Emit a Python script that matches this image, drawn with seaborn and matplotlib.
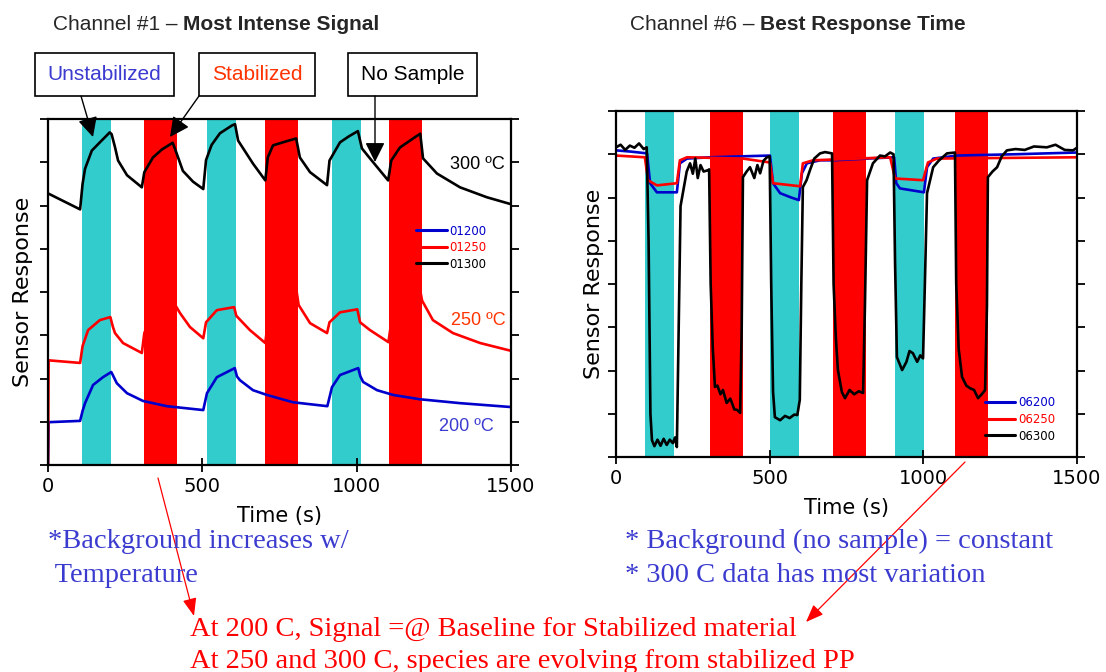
import numpy as np
import pandas as pd
import matplotlib
matplotlib.use("Agg")
import matplotlib.pyplot as plt
import seaborn as sns
from matplotlib.patches import Rectangle

# ---------------- data ----------------
# Channel #1 (left)
t_01200 = [0, 2, 104, 112, 120, 146, 178, 205, 212, 223, 256, 308, 385, 503, 515, 547, 605, 612, 622, 664,
           709, 794, 905, 920, 946, 1005, 1012, 1021, 1066, 1118, 1205, 1335, 1500]
v_01200 = [0.0, 0.99, 1.02, 1.25, 1.43, 1.85, 2.03, 2.15, 2.05, 1.89, 1.66, 1.48, 1.36, 1.27, 1.66, 2.03, 2.24, 2.05, 1.96, 1.73,
           1.62, 1.45, 1.36, 1.80, 2.08, 2.24, 2.05, 1.92, 1.73, 1.62, 1.52, 1.43, 1.34]

t_01250 = [0, 2, 104, 112, 130, 168, 202, 210, 217, 243, 304, 312, 340, 370, 405, 412, 428, 460, 503, 512, 547, 603, 610,
           654, 704, 712, 750, 804, 812, 849, 904, 912, 946, 1002, 1011, 1043, 1103, 1112, 1150, 1204, 1212, 1247,
           1312, 1400, 1500]
v_01250 = [0.0, 2.42, 2.36, 2.75, 3.12, 3.35, 3.42, 3.20, 3.05, 2.82, 2.59, 3.05, 3.55, 3.85, 4.00, 3.70, 3.51, 3.19, 2.93,
           3.30, 3.58, 3.65, 3.45, 3.12, 2.82, 3.30, 3.85, 4.08, 3.70, 3.28, 3.05, 3.30, 3.53, 3.60, 3.30, 3.12, 2.84,
           3.30, 3.80, 4.10, 3.80, 3.35, 3.05, 2.82, 2.64]

t_01300 = [0, 104, 112, 120, 142, 168, 200, 206, 217, 227, 256, 304, 312, 340, 370, 404, 412, 437, 470, 503, 512, 530,
           557, 596, 606, 616, 664, 704, 712, 729, 770, 804, 816, 849, 904, 912, 946, 975, 1004, 1017, 1043, 1102,
           1112, 1140, 1189, 1206, 1215, 1260, 1335, 1422, 1500]
v_01300 = [6.28, 5.91, 6.50, 6.85, 7.27, 7.46, 7.69, 7.65, 7.35, 7.04, 6.70, 6.42, 6.77, 7.11, 7.30, 7.45, 7.30, 6.80,
           6.55, 6.38, 7.05, 7.40, 7.67, 7.85, 7.88, 7.50, 6.97, 6.58, 7.11, 7.39, 7.48, 7.55, 7.11, 6.77, 6.47, 7.04,
           7.46, 7.60, 7.72, 7.32, 7.09, 6.58, 7.04, 7.34, 7.58, 7.66, 7.09, 6.74, 6.42, 6.19, 6.03]

# Channel #6 (right)
t_06200 = [0, 50, 101, 111, 133, 198, 208, 231, 306, 400, 501, 511, 534, 570, 595, 605, 621, 664, 706, 817, 905, 912,
           924, 1002, 1012, 1032, 1110, 1300, 1500]
v_06200 = [7.09, 7.06, 7.02, 6.33, 6.12, 6.12, 6.79, 6.90, 6.93, 6.95, 6.97, 6.33, 6.10, 6.00, 5.94, 6.56, 6.79, 6.86,
           6.86, 6.90, 6.93, 6.33, 6.21, 6.12, 6.70, 6.90, 6.97, 7.00, 7.04]

t_06250 = [0, 94, 104, 133, 198, 208, 231, 413, 501, 511, 599, 608, 641, 892, 908, 999, 1015, 1044, 1500]
v_06250 = [6.97, 6.93, 6.40, 6.28, 6.33, 6.86, 6.93, 6.90, 6.81, 6.33, 6.26, 6.79, 6.86, 6.93, 6.44, 6.40, 6.81, 6.90, 6.93]

t_06300 = [0, 15, 30, 45, 60, 75, 90, 100, 106, 112, 117, 125, 135, 145, 155, 165, 175, 185, 192, 198, 204, 210, 220,
           230, 241, 250, 258, 266, 275, 285, 299, 303, 308, 315, 322, 330, 340, 348, 360, 372, 385, 394, 404, 409,
           413, 425, 436, 450, 460, 469, 480, 491, 500, 505, 511, 517, 534, 550, 565, 580, 590, 598, 603, 608, 620,
           631, 645, 664, 680, 703, 708, 715, 722, 735, 745, 760, 775, 790, 804, 810, 817, 836, 859, 875, 892, 903,
           908, 914, 931, 945, 955, 966, 980, 990, 999, 1005, 1012, 1032, 1050, 1077, 1103, 1107, 1115, 1126, 1140,
           1152, 1165, 1178, 1190, 1201, 1207, 1210, 1225, 1240, 1255, 1272, 1300, 1330, 1360, 1402, 1430, 1460,
           1487, 1500]
v_06300 = [7.16, 7.22, 7.10, 7.20, 7.15, 7.25, 7.12, 7.16, 5.00, 1.00, 0.39, 0.25, 0.40, 0.26, 0.42, 0.28, 0.40, 0.32,
           0.45, 0.23, 3.00, 5.80, 6.20, 6.60, 6.79, 6.55, 6.90, 6.45, 6.75, 6.60, 6.63, 6.65, 4.00, 2.50, 1.62, 1.65,
           1.45, 1.55, 1.25, 1.35, 1.10, 1.09, 1.02, 3.00, 6.47, 6.60, 6.70, 6.45, 6.75, 6.56, 6.85, 6.93, 6.95, 4.00,
           1.50, 0.92, 0.85, 0.95, 0.90, 0.98, 0.97, 1.32, 4.00, 6.24, 6.40, 6.63, 6.90, 7.02, 7.05, 7.02, 4.00, 2.80,
           2.01, 1.50, 1.36, 1.55, 1.45, 1.52, 1.48, 3.50, 6.40, 6.79, 6.97, 6.95, 7.04, 7.00, 4.50, 2.31, 2.01, 2.20,
           2.45, 2.40, 2.20, 2.35, 2.28, 4.00, 6.10, 6.70, 6.85, 7.02, 7.04, 4.00, 2.50, 1.85, 1.65, 1.59, 1.55, 1.36,
           1.45, 1.55, 3.50, 6.47, 6.60, 6.70, 6.95, 7.09, 7.12, 7.10, 7.18, 7.16, 7.22, 7.10, 7.09, 7.15]

# exposure windows (s)
left_unstab = [(110, 204), (516, 609), (921, 1014)]
left_stab = [(311, 417), (703, 809), (1105, 1211)]
right_unstab = [(94, 189), (501, 595), (908, 1002)]
right_stab = [(306, 412), (706, 813), (1103, 1210)]

x_ticks = [0, 500, 1000, 1500]

CYAN = "#33CCCC"
RED = "#FF0000"
BLUE_LINE = "#0000CC"
TXT_BLUE = "#3B3BD0"
TXT_RED = "#FF3300"

# ---------------- figure ----------------
sns.set_theme(style="ticks")
plt.rcParams["font.family"] = ["DejaVu Sans"]

W, H = 1106, 672
fig = plt.figure(figsize=(W / 100, H / 100), dpi=100)
fig.patch.set_facecolor("white")


def fx(px):
    return px / W


def fy(py):
    return 1 - py / H


axL = fig.add_axes([fx(48), fy(465), fx(511) - fx(48), fy(119) - fy(465)])
axR = fig.add_axes([fx(616), fy(457), fx(1077) - fx(616), fy(111) - fy(457)])


def make_df(pairs):
    frames = []
    for name, t, v in pairs:
        frames.append(pd.DataFrame({"t": t, "v": v, "series": name}))
    return pd.concat(frames, ignore_index=True)


dfL = make_df([("01200", t_01200, v_01200), ("01250", t_01250, v_01250), ("01300", t_01300, v_01300)])
dfR = make_df([("06200", t_06200, v_06200), ("06250", t_06250, v_06250), ("06300", t_06300, v_06300)])

for ax, df, unst, stab, names, ylpad in [
    (axL, dfL, left_unstab, left_stab, ["01200", "01250", "01300"], 5),
    (axR, dfR, right_unstab, right_stab, ["06200", "06250", "06300"], 3),
]:
    ax.set_facecolor("white")
    for a, b in unst:
        ax.axvspan(a, b, color=CYAN, lw=0, zorder=0)
    for a, b in stab:
        ax.axvspan(a, b, color=RED, lw=0, zorder=0)
    pal = {names[0]: BLUE_LINE, names[1]: RED, names[2]: "black"}
    sns.lineplot(data=df, x="t", y="v", hue="series", hue_order=names, palette=pal,
                 sort=False, estimator=None, lw=1.9, ax=ax, legend=True)
    ax.set_xlim(0, 1500)
    ax.set_ylim(0, 8)
    ax.set_xticks(x_ticks)
    ax.set_yticks(range(9))
    ax.tick_params(axis="y", left=True, right=True, labelleft=False, direction="out",
                   length=6, width=1.3, color="black")
    ax.tick_params(axis="x", direction="inout", length=10, width=1.3, labelsize=14,
                   pad=4, color="black", labelcolor="black")
    for s in ax.spines.values():
        s.set_linewidth(1.6)
        s.set_color("black")
    ax.set_xlabel("Time (s)", fontsize=15, labelpad=7, color="black")
    ax.set_ylabel("Sensor Response", fontsize=16, labelpad=ylpad, color="black")
    ax.grid(False)

# legends
for ax, anchor in [(axL, (0.795, 0.695)), (axR, (0.80, 0.175))]:
    h, l = ax.get_legend_handles_labels()
    for hh in h:
        hh.set_linewidth(2.2)
    ax.legend(h, l, loc="upper left", bbox_to_anchor=anchor, frameon=False, fontsize=8.5,
              labelcolor="linecolor", handlelength=2.6, handletextpad=0.25, labelspacing=0.3,
              borderaxespad=0, borderpad=0)

# temperature labels
lab_font = dict(family=["Liberation Sans", "DejaVu Sans"], fontsize=13)
axL.text(1481, 6.94, "300 ºC", ha="right", va="center", color="black", **lab_font)
axL.text(1481, 3.33, "250 ºC", ha="right", va="center", color=TXT_RED, **lab_font)
axL.text(1445, 0.90, "200 ºC", ha="right", va="center", color=TXT_BLUE, **lab_font)

# titles
sans = ["Liberation Sans", "DejaVu Sans"]
t1 = fig.text(fx(53), fy(24), "Channel #1 – ", fontsize=15, family=sans, va="center", ha="left")
fig.add_artist(plt.Annotation("Most Intense Signal", xy=(1, 0), xycoords=t1, va="bottom", ha="left",
                              fontsize=15, family=sans, fontweight="bold"))
t2 = fig.text(fx(630), fy(24), "Channel #6 – ", fontsize=15, family=sans, va="center", ha="left")
fig.add_artist(plt.Annotation("Best Response Time", xy=(1, 0), xycoords=t2, va="bottom", ha="left",
                              fontsize=15, family=sans, fontweight="bold"))

# labelled boxes
boxes = [((35, 53, 174, 96), "Unstabilized", TXT_BLUE),
         ((199, 53, 315, 96), "Stabilized", TXT_RED),
         ((348, 53, 477, 96), "No Sample", "black")]
for (x0, y0, x1, y1), txt, col in boxes:
    fig.add_artist(Rectangle((fx(x0), fy(y1)), fx(x1) - fx(x0), fy(y0) - fy(y1), transform=fig.transFigure,
                             facecolor="white", edgecolor="black", lw=1.2))
    fig.text(fx((x0 + x1) / 2), fy((y0 + y1) / 2), txt, color=col, fontsize=15, family=sans,
             ha="center", va="center")

arrow_kw = dict(arrowstyle="-|>,head_length=1.0,head_width=0.5", color="black", lw=1.0, shrinkA=0, shrinkB=0)
for start, end in [((81, 96), (93, 137)), ((199, 96), (170, 137)), ((375, 96), (375, 162))]:
    fig.add_artist(plt.Annotation("", xy=(fx(end[0]), fy(end[1])), xycoords="figure fraction",
                                  xytext=(fx(start[0]), fy(start[1])), textcoords="figure fraction",
                                  arrowprops=arrow_kw))

# notes
serif = ["Liberation Serif", "DejaVu Serif"]
note = dict(fontsize=20.5, family=serif, va="center", ha="left")
fig.text(fx(48), fy(541), "*Background increases w/", color=TXT_BLUE, **note)
fig.text(fx(48), fy(575), " Temperature", color=TXT_BLUE, **note)
fig.text(fx(625), fy(541), "* Background (no sample) = constant", color=TXT_BLUE, **note)
fig.text(fx(625), fy(575), "* 300 C data has most variation", color=TXT_BLUE, **note)
fig.text(fx(190), fy(629), "At 200 C, Signal =@ Baseline for Stabilized material", color=RED, **note)
fig.text(fx(190), fy(661), "At 250 and 300 C, species are evolving from stabilized PP", color=RED, **note)

red_kw = dict(arrowstyle="-|>,head_length=0.9,head_width=0.35", color=RED, lw=0.9, shrinkA=0, shrinkB=0)
for start, end in [((158, 478), (194, 616)), ((965, 462), (806, 622))]:
    fig.add_artist(plt.Annotation("", xy=(fx(end[0]), fy(end[1])), xycoords="figure fraction",
                                  xytext=(fx(start[0]), fy(start[1])), textcoords="figure fraction",
                                  arrowprops=red_kw))

fig.savefig("out.png", dpi=100, facecolor="white")
